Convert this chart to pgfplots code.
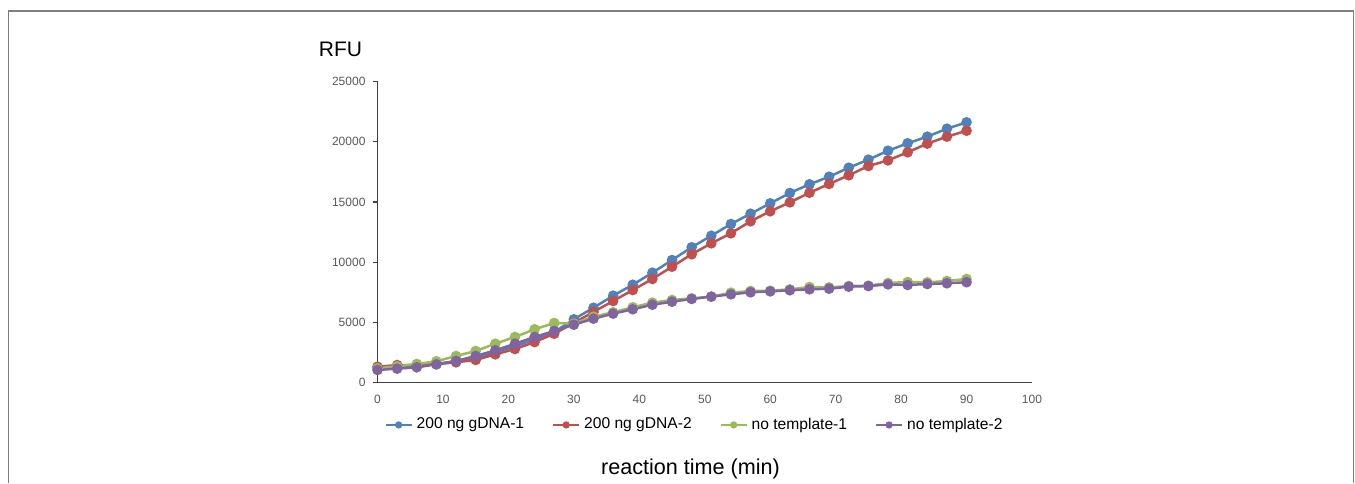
\documentclass[border=0pt]{standalone}
\usepackage{fontspec}
\setmainfont{Liberation Sans}
\usepackage{pgfplots}
\pgfplotsset{compat=1.18}
\usepackage{pgfplotstable}

\definecolor{sblue}{HTML}{4F81BD}
\definecolor{sred}{HTML}{C0504D}
\definecolor{sgreen}{HTML}{9BBB59}
\definecolor{spurple}{HTML}{8064A2}
\definecolor{tickgray}{HTML}{595959}
\definecolor{framegray}{HTML}{7F7F7F}

% reaction time (min) vs RFU
\pgfplotstableread{
t   g1    g2    n1   n2
0   1180  1310  1180 1040
3   1310  1450  1350 1150
6   1400  1450  1540 1260
9   1550  1520  1760 1510
12  1760  1680  2200 1790
15  2030  1870  2620 2200
18  2530  2340  3220 2670
21  3000  2780  3780 3220
24  3590  3360  4420 3780
27  4190  4050  4940 4280
30  5250  4950  4900 4800
33  6210  5860  5470 5300
36  7210  6770  5830 5720
39  8120  7680  6250 6080
42  9120  8600  6630 6460
45  10170 9620  6850 6710
48  11230 10650 6990 6940
51  12190 11560 7130 7130
54  13160 12390 7460 7320
57  14020 13390 7600 7490
60  14880 14220 7620 7570
63  15740 14960 7740 7660
66  16460 15760 7930 7740
69  17090 16490 7900 7790
72  17840 17210 8010 7960
75  18510 17980 8040 8010
78  19250 18450 8260 8150
81  19870 19120 8350 8100
84  20420 19840 8320 8180
87  21080 20420 8430 8240
90  21610 20910 8600 8330
}\rfudata

\begin{document}
\begin{tikzpicture}
\path[use as bounding box] (0,0) rectangle (677.5pt,241.5pt);
\draw[framegray, line width=0.6pt] (4.3pt,0) -- (4.3pt,236pt) -- (676.8pt,236pt) -- (676.8pt,0);

\begin{axis}[
    at={(188.75pt,50.25pt)}, anchor=south west,
    scale only axis, width=327.25pt, height=150.5pt,
    xmin=0, xmax=100, ymin=0, ymax=25000,
    axis x line*=bottom, axis y line*=left,
    axis line style={line width=0.75pt, draw=black!75},
    xtick={0,10,...,100}, ytick={0,5000,...,25000},
    x tick style={draw=none},
    y tick style={draw=black!75, line width=0.6pt},
    ytick align=outside, major tick length=2.5pt,
    tick label style={font=\fontsize{6}{7}\selectfont, text=tickgray},
    xticklabel style={yshift=-3pt},
    /pgf/number format/assume math mode=true,
    /pgf/number format/1000 sep={},
    scaled y ticks=false,
    clip=false,
    every axis plot/.append style={line width=1.25pt, mark=*, mark size=2pt},
    legend image code/.code={\draw[mark repeat=2, mark phase=2, line width=1pt, mark size=1.3pt]
        plot coordinates {(0pt,0pt) (6.5pt,0pt) (13pt,0pt)};},
    legend style={draw=none, fill=none, at={(0.486,-0.141)}, anchor=center,
        font=\fontsize{7.8}{9}\selectfont, inner sep=0pt,
        /tikz/every even column/.append style={column sep=12pt}},
    legend columns=4, legend cell align=left,
]
\addplot[sblue, mark options={fill=sblue, draw=sblue}] table[x=t, y=g1] {\rfudata};
\addlegendentry{200 ng gDNA-1}
\addplot[sred, mark options={fill=sred, draw=sred}] table[x=t, y=g2] {\rfudata};
\addlegendentry{200 ng gDNA-2}
\addplot[sgreen, mark options={fill=sgreen, draw=sgreen}] table[x=t, y=n1] {\rfudata};
\addlegendentry{no template-1}
\addplot[spurple, mark options={fill=spurple, draw=spurple}] table[x=t, y=n2] {\rfudata};
\addlegendentry{no template-2}
\end{axis}

\node at (170.25pt,216.9pt) {\fontsize{10.5}{12}\selectfont RFU};
\node at (345.25pt,7pt) {\fontsize{10.8}{12}\selectfont reaction time (min)};
\end{tikzpicture}
\end{document}
